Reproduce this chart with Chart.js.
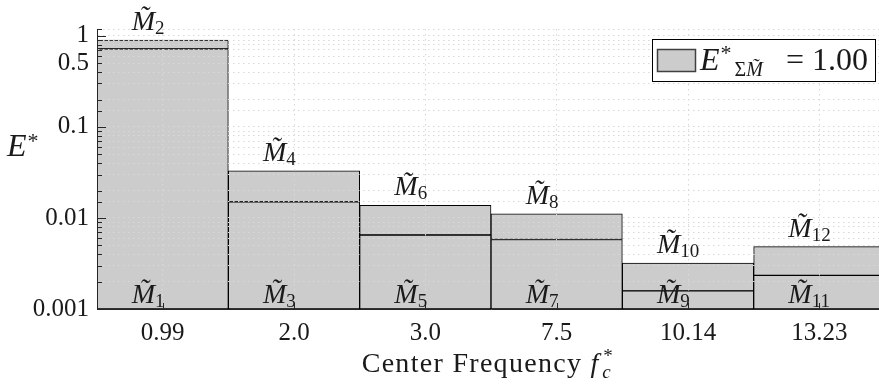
<!DOCTYPE html>
<html>
<head>
<meta charset="utf-8">
<script src="https://cdn.jsdelivr.net/npm/chart.js@4/dist/chart.umd.min.js"></script>
<style>
  html, body { margin: 0; padding: 0; background: #fff; overflow: hidden; }
  #wrap { width: 890px; height: 386px; }
</style>
</head>
<body>
<div id="wrap"><canvas id="chart" width="890" height="386"></canvas></div>
<script>
// Data
const centerFreqs = ['0.99', '2.0', '3.0', '7.5', '10.14', '13.23'];
const lowerModes = [0.72, 0.015, 0.0065, 0.0058, 0.00158, 0.00234];   // M1, M3, ..., M11
const upperModes = [0.18, 0.018, 0.0073, 0.0053, 0.00162, 0.0025];    // M2, M4, ..., M12
const yTickLabels = [0.001, 0.01, 0.1, 0.5, 1];
const totalEnergy = '1.00';

// Styles
const SERIF = "'Liberation Serif', 'DejaVu Serif', serif";
const TEXT = '#1a1a1a';
const AXIS = '#262626';
const GRID = '#d9d9d9';
const BAR = '#cccccc';

function drawMode(ctx, x, y, n) {
    ctx.font = `italic 28px ${SERIF}`;
    ctx.textAlign = 'left';
    ctx.textBaseline = 'alphabetic';
    ctx.fillText('M\u0303', x, y);
    const w = ctx.measureText('M').width;
    ctx.font = `19px ${SERIF}`;
    ctx.fillText(String(n), x + w, y + 4);
}

// Labels, inside ticks, legend and axis titles
const annotate = {
    id: 'annotate',
    afterDraw(chart) {
        const { ctx, chartArea: ca, scales: { x, y } } = chart;
        ctx.save();

        // inside tick marks
        ctx.strokeStyle = AXIS;
        ctx.lineWidth = 1;
        ctx.beginPath();
        y.ticks.forEach(t => {
            const py = Math.round(y.getPixelForValue(t.value)) + 0.5;
            const major = Math.abs(Math.log10(t.value) - Math.round(Math.log10(t.value))) < 1e-6;
            ctx.moveTo(ca.left, py);
            ctx.lineTo(ca.left + (major ? 9 : 5), py);
        });
        x.ticks.forEach((t, i) => {
            const px = Math.round(x.getPixelForTick(i)) + 0.5;
            ctx.moveTo(px, ca.bottom);
            ctx.lineTo(px, ca.bottom - 6);
        });
        ctx.stroke();

        // mode labels
        ctx.fillStyle = TEXT;
        centerFreqs.forEach((f, i) => {
            const cx = x.getPixelForTick(i);
            const top = y.getPixelForValue(lowerModes[i] + upperModes[i]);
            drawMode(ctx, cx - 31, ca.bottom - 6, 2 * i + 1);
            drawMode(ctx, cx - 31, top - 10, 2 * i + 2);
        });

        // y title
        ctx.font = `italic 32px ${SERIF}`;
        ctx.fillText('E', 7, 156);
        const we = ctx.measureText('E').width;
        ctx.font = `22px ${SERIF}`;
        ctx.fillText('*', 7 + we + 1, 148);

        // x title
        ctx.letterSpacing = '1.3px';
        ctx.font = `28px ${SERIF}`;
        const part1 = 'Center Frequency ';
        const w1 = ctx.measureText(part1).width;
        ctx.letterSpacing = '0px';
        ctx.font = `italic 28px ${SERIF}`;
        const wf = ctx.measureText('f').width;
        const total = w1 + wf + 22;
        let tx = (ca.left + ca.right) / 2 - total / 2;
        ctx.letterSpacing = '1.3px';
        ctx.font = `28px ${SERIF}`;
        ctx.fillText(part1, tx, 372);
        ctx.letterSpacing = '0px';
        tx += w1;
        ctx.font = `italic 28px ${SERIF}`;
        ctx.fillText('f', tx, 372);
        ctx.font = `italic 19px ${SERIF}`;
        ctx.fillText('c', tx + wf + 4, 378);
        ctx.font = `19px ${SERIF}`;
        ctx.fillText('*', tx + wf + 5, 362);

        // legend box
        const lx = ca.right - 10 - 223, ly = ca.top + 10;
        ctx.fillStyle = '#fff';
        ctx.fillRect(lx, ly, 223, 42);
        ctx.strokeStyle = '#000';
        ctx.lineWidth = 1;
        ctx.strokeRect(lx + 0.5, ly + 0.5, 223, 42);
        ctx.fillStyle = BAR;
        ctx.fillRect(lx + 5, ly + 10, 39, 23);
        ctx.strokeStyle = '#404040';
        ctx.lineWidth = 1.5;
        ctx.strokeRect(lx + 5.5, ly + 10.5, 38, 22);
        ctx.fillStyle = TEXT;
        const base = ly + 31;
        let lxt = lx + 48;
        ctx.font = `italic 32px ${SERIF}`;
        ctx.fillText('E', lxt, base);
        lxt += ctx.measureText('E').width + 1;
        ctx.font = `22px ${SERIF}`;
        ctx.fillText('*', lxt, base - 10);
        lxt += 14;
        ctx.font = `20px ${SERIF}`;
        ctx.fillText('\u03A3', lxt, base + 6);
        lxt += ctx.measureText('\u03A3').width;
        ctx.font = `italic 20px ${SERIF}`;
        ctx.fillText('M\u0303', lxt, base + 6);
        ctx.font = `32px ${SERIF}`;
        ctx.textAlign = 'right';
        ctx.fillText('= ' + totalEnergy, lx + 216, base);

        ctx.restore();
    }
};

const barStyle = {
    backgroundColor: BAR,
    borderColor: '#000',
    borderWidth: 1,
    borderSkipped: false
};

new Chart(document.getElementById('chart'), {
    type: 'bar',
    data: {
        labels: centerFreqs,
        datasets: [
            { label: 'odd modes', data: lowerModes, ...barStyle },
            { label: 'even modes', data: upperModes, ...barStyle }
        ]
    },
    options: {
        responsive: false,
        animation: false,
        layout: { padding: { top: 29, right: 5, left: 0, bottom: 0 } },
        datasets: { bar: { categoryPercentage: 1, barPercentage: 1 } },
        plugins: {
            legend: { display: false },
            tooltip: { enabled: false }
        },
        scales: {
            x: {
                stacked: true,
                grid: { offset: false, color: GRID, drawTicks: false, z: 1 },
                border: { color: AXIS, width: 1, dash: [1.5, 3.5], z: 2 },
                ticks: { font: { family: SERIF, size: 25 }, color: TEXT, padding: 9, maxRotation: 0 },
                afterFit: s => { s.height = 77; }
            },
            y: {
                type: 'logarithmic',
                stacked: true,
                min: 0.001,
                max: 1.19,
                grid: { color: GRID, drawTicks: false, z: 1 },
                border: { color: AXIS, width: 1, dash: [1.5, 3.5], z: 2 },
                ticks: {
                    autoSkip: false,
                    font: { family: SERIF, size: 25 },
                    color: TEXT,
                    padding: 8,
                    callback: v => {
                        const hit = yTickLabels.find(t => Math.abs(v - t) / t < 1e-6);
                        return hit === undefined ? '' : String(hit);
                    }
                },
                afterFit: s => { s.width = 97; }
            }
        }
    },
    plugins: [annotate]
});
</script>
</body>
</html>
